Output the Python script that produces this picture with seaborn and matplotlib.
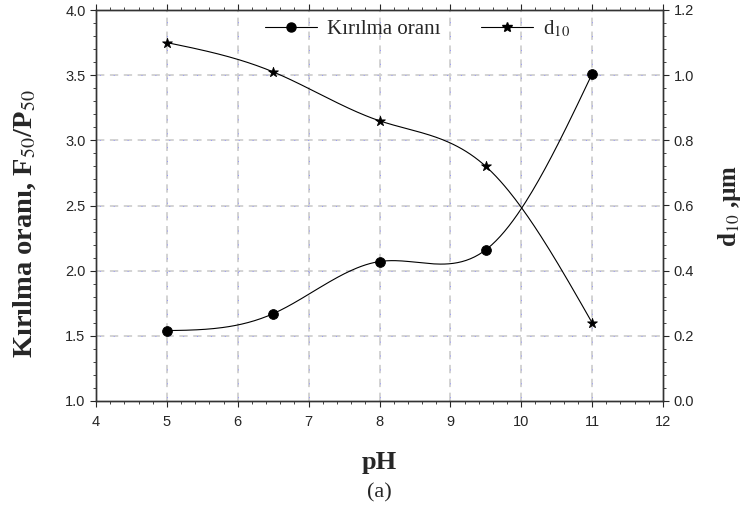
import numpy as np
import pandas as pd
import matplotlib
matplotlib.use('Agg')
import matplotlib.pyplot as plt
import seaborn as sns
from matplotlib.lines import Line2D
from matplotlib.ticker import MultipleLocator, FormatStrFormatter

ph = [5, 6.5, 8, 9.5, 11]
kirilma = [1.54, 1.67, 2.07, 2.16, 3.51]
d10 = [1.10, 1.01, 0.86, 0.72, 0.24]

# natural cubic spline, only used to draw the smooth curve through the points
def smooth(x, y, n=200):
    x = np.asarray(x, float); y = np.asarray(y, float)
    k = len(x); h = np.diff(x)
    A = np.zeros((k, k)); b = np.zeros(k)
    A[0, 0] = A[-1, -1] = 1
    for i in range(1, k - 1):
        A[i, i - 1] = h[i - 1]; A[i, i] = 2 * (h[i - 1] + h[i]); A[i, i + 1] = h[i]
        b[i] = 6 * ((y[i + 1] - y[i]) / h[i] - (y[i] - y[i - 1]) / h[i - 1])
    M = np.linalg.solve(A, b)
    xs = np.linspace(x[0], x[-1], n)
    idx = np.clip(np.searchsorted(x, xs) - 1, 0, k - 2)
    x0, x1 = x[idx], x[idx + 1]; hh = x1 - x0
    ys = (M[idx] * (x1 - xs) ** 3 / (6 * hh) + M[idx + 1] * (xs - x0) ** 3 / (6 * hh)
          + (y[idx] / hh - M[idx] * hh / 6) * (x1 - xs)
          + (y[idx + 1] / hh - M[idx + 1] * hh / 6) * (xs - x0))
    return xs, ys

sns.set_style('white')
plt.rcParams['font.family'] = ['Liberation Sans', 'DejaVu Sans']
plt.rcParams['mathtext.fontset'] = 'stix'
plt.rcParams['lines.scale_dashes'] = False

fig = plt.figure(figsize=(7.45, 5.16), dpi=100)
ax = fig.add_axes([96 / 745, 1 - 401 / 516, (663 - 96) / 745, (401 - 10) / 516])
ax2 = ax.twinx()

# grid: gray dashes with small blue dots in the gaps
for gx in range(5, 12):
    ax.axvline(gx, color='#d0d0d0', lw=1.3, ls=(0, (6, 4)), zorder=0)
    ax.axvline(gx, color='#8c8cff', lw=0.6, ls=(7.6, (0.7, 9.3)), zorder=0)
for gy in [1.5, 2.0, 2.5, 3.0, 3.5]:
    ax.axhline(gy, color='#d0d0d0', lw=1.3, ls=(0, (6, 4)), zorder=0)
    ax.axhline(gy, color='#8c8cff', lw=0.6, ls=(7.6, (0.7, 9.3)), zorder=0)

xs, ys = smooth(ph, kirilma)
sns.lineplot(x=xs, y=ys, ax=ax, color='black', lw=0.8)
sns.scatterplot(x=ph, y=kirilma, ax=ax, color='black', marker='o', s=50, edgecolor='black', zorder=5)

xs2, ys2 = smooth(ph, d10)
sns.lineplot(x=xs2, y=ys2, ax=ax2, color='black', lw=0.8)
sns.scatterplot(x=ph, y=d10, ax=ax2, color='black', marker='*', s=55, edgecolor='black', zorder=5)

ax.set_xlim(4, 12)
ax.set_ylim(1.0, 4.0)
ax2.set_ylim(0.0, 1.2)
ax.xaxis.set_major_locator(MultipleLocator(1))
ax.xaxis.set_minor_locator(MultipleLocator(0.2))
ax.yaxis.set_major_locator(MultipleLocator(0.5))
ax.yaxis.set_minor_locator(MultipleLocator(0.1))
ax2.yaxis.set_major_locator(MultipleLocator(0.2))
ax2.yaxis.set_minor_locator(MultipleLocator(0.04))
ax.yaxis.set_major_formatter(FormatStrFormatter('%.1f'))
ax2.yaxis.set_major_formatter(FormatStrFormatter('%.1f'))

ax.tick_params(axis='x', which='both', direction='out', bottom=True, top=True, labelsize=10.5, pad=6)
ax.tick_params(axis='x', which='major', length=4)
ax.tick_params(axis='x', which='minor', length=2.5)
ax.tick_params(axis='y', which='both', direction='out', left=True, labelsize=10.5)
ax.tick_params(axis='y', which='major', length=4)
ax.tick_params(axis='y', which='minor', length=2.5)
ax2.tick_params(axis='y', which='both', direction='out', right=True, labelsize=10.5)
ax2.tick_params(axis='y', which='major', length=4)
ax2.tick_params(axis='y', which='minor', length=2.5)
for a in (ax, ax2):
    for s in a.spines.values():
        s.set_color('#333333'); s.set_linewidth(1.0)

serif = ['Liberation Serif', 'DejaVu Serif']
ax.set_ylabel('Kırılma oranı, F$_{50}$/P$_{50}$', family=serif, fontweight='bold', fontsize=20.5)
ax.yaxis.set_label_coords(-0.102, 0.455)
ax2.set_ylabel('d$_{10}$ ,µm', family=serif, fontweight='bold', fontsize=18)
ax2.yaxis.set_label_coords(1.093, 0.5)
ax.set_xlabel('pH', family=serif, fontweight='bold', fontsize=19, labelpad=16)
fig.text(0.5 * (96 + 663) / 745, 1 - 493 / 516, '(a)', family=serif, fontsize=16, ha='center', va='center')

handles = [Line2D([], [], color='black', lw=0.8, marker='o', markersize=6.5),
           Line2D([], [], color='black', lw=0.8, marker='*', markersize=7)]
ax.legend(handles, ['Kırılma oranı', 'd$_{10}$'], loc='upper left', bbox_to_anchor=(0.298, 0.978),
          ncol=2, frameon=False, prop={'family': serif, 'size': 15}, handlelength=2.5,
          columnspacing=1.9, handletextpad=0.5, borderpad=0, borderaxespad=0)

fig.savefig('out.png', dpi=100)
